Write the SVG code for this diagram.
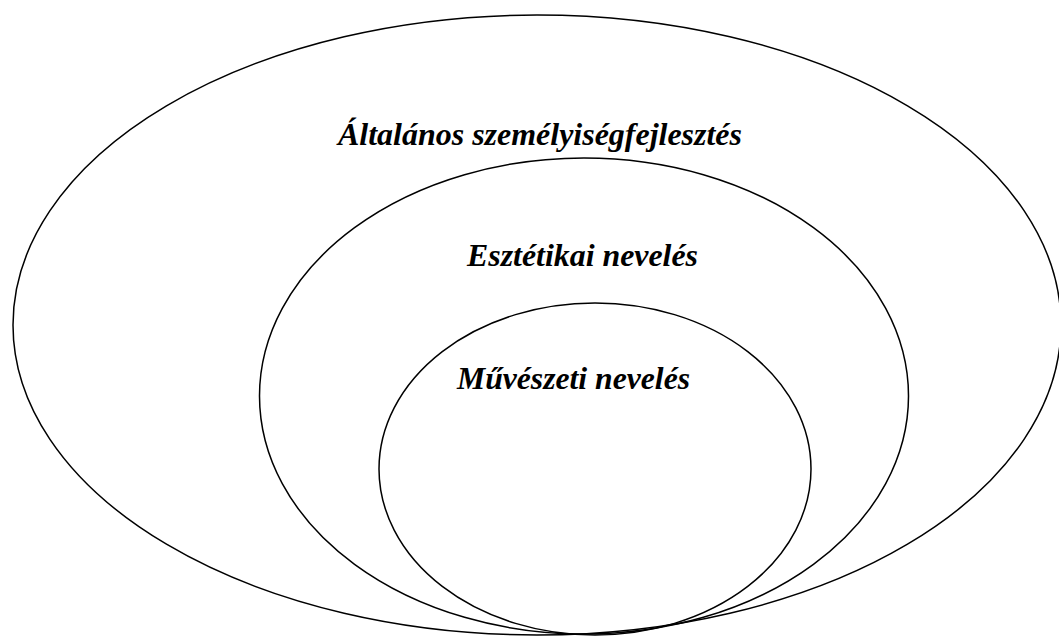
<svg xmlns="http://www.w3.org/2000/svg" width="1059" height="636" viewBox="0 0 1059 636">
<style>
.e{fill:none;stroke:#000;stroke-width:1.5}
.t{font-family:"Liberation Serif","Times New Roman",serif;font-weight:bold;font-style:italic;font-size:32px;fill:#000}
</style>
<rect width="1059" height="636" fill="#fff"/>
<g id="outer">
<ellipse class="e" cx="537" cy="325" rx="524" ry="310"/>
<text class="t" x="338" y="145" textLength="404" lengthAdjust="spacingAndGlyphs">Általános személyiségfejlesztés</text>
</g>
<g id="middle">
<ellipse class="e" cx="584" cy="396" rx="324.5" ry="238"/>
<text class="t" x="467" y="266" textLength="231" lengthAdjust="spacingAndGlyphs">Esztétikai nevelés</text>
</g>
<g id="inner">
<ellipse class="e" cx="595" cy="469" rx="216" ry="166"/>
<text class="t" x="457" y="389" textLength="233" lengthAdjust="spacingAndGlyphs">Művészeti nevelés</text>
</g>
</svg>
